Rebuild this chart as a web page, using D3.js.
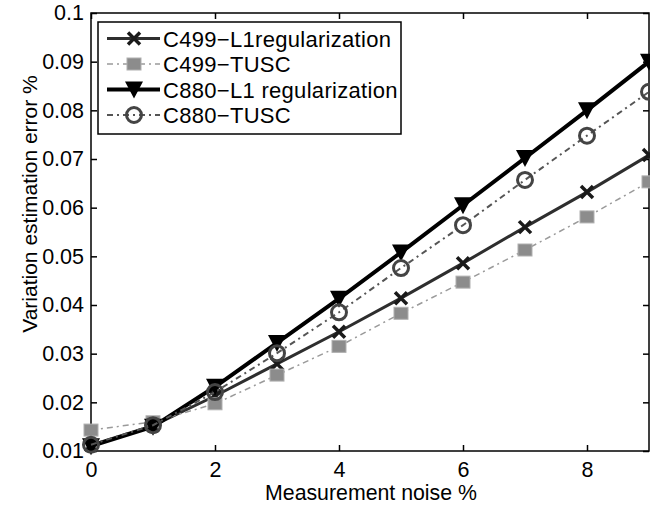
<!DOCTYPE html>
<html>
<head>
<meta charset="utf-8">
<script src="https://cdn.jsdelivr.net/npm/d3@7"></script>
<style>
  body { margin: 0; background: #fff; }
  svg text { font-family: "Liberation Sans", Arial, sans-serif; fill: #000; }
</style>
</head>
<body>
<div id="container"></div>
<script>
const noise = [0, 1, 2, 3, 4, 5, 6, 7, 8, 9];
const c499L1 = [0.0112, 0.0152, 0.0213, 0.0279, 0.0345, 0.0414, 0.0486, 0.0560, 0.0632, 0.0708];
const c499Tusc = [0.0143, 0.0160, 0.0197, 0.0256, 0.0315, 0.0383, 0.0447, 0.0513, 0.0581, 0.0653];
const c880L1 = [0.0110, 0.0150, 0.0232, 0.0322, 0.0413, 0.0508, 0.0605, 0.0702, 0.0800, 0.0900];
const c880Tusc = [0.0113, 0.0153, 0.0221, 0.0301, 0.0385, 0.0476, 0.0564, 0.0657, 0.0748, 0.0838];
const xTicks = [0, 2, 4, 6, 8];
const yTicks = [0.01, 0.02, 0.03, 0.04, 0.05, 0.06, 0.07, 0.08, 0.09, 0.1];
const seriesNames = ['C499\u2212L1regularization', 'C499\u2212TUSC', 'C880\u2212L1 regularization', 'C880\u2212TUSC'];

const width = 650, height = 506;
const margin = { top: 13, right: 1, bottom: 55, left: 91 };
const innerW = width - margin.left - margin.right;
const innerH = height - margin.top - margin.bottom;

const x = d3.scaleLinear().domain([0, 9]).range([0, innerW]);
const y = d3.scaleLinear().domain([0.01, 0.1]).range([innerH, 0]);

const svg = d3.select('#container').append('svg').attr('width', width).attr('height', height);
const g = svg.append('g').attr('transform', `translate(${margin.left},${margin.top})`);

// series styles
const series = [
  { name: seriesNames[0], values: c499L1, stroke: '#2e2e2e', sw: 3, dash: null, marker: 'x', mcol: '#1a1a1a' },
  { name: seriesNames[1], values: c499Tusc, stroke: '#9a9a9a', sw: 1.5, dash: '6,4,2,4', marker: 'square', mcol: '#8c8c8c' },
  { name: seriesNames[2], values: c880L1, stroke: '#000', sw: 4, dash: null, marker: 'tri', mcol: '#000' },
  { name: seriesNames[3], values: c880Tusc, stroke: '#555', sw: 2, dash: '6,4,2,4', marker: 'circle', mcol: '#444' }
];

function drawMarker(sel, type, cx, cy, col) {
  if (type === 'x') {
    sel.append('path').attr('d', `M${cx-6},${cy-6}L${cx+6},${cy+6}M${cx-6},${cy+6}L${cx+6},${cy-6}`)
      .attr('stroke', col).attr('stroke-width', 3.5).attr('fill', 'none');
  } else if (type === 'square') {
    sel.append('rect').attr('x', cx - 7).attr('y', cy - 6).attr('width', 14).attr('height', 12)
      .attr('fill', col).attr('stroke', '#b0b0b0').attr('stroke-width', 1);
  } else if (type === 'tri') {
    sel.append('path').attr('d', `M${cx-9},${cy-8}L${cx+9},${cy-8}L${cx},${cy+9}Z`).attr('fill', col);
  } else if (type === 'circle') {
    sel.append('circle').attr('cx', cx).attr('cy', cy).attr('r', 7.5)
      .attr('fill', 'none').attr('stroke', col).attr('stroke-width', 3);
  }
}

// box + ticks
g.append('rect').attr('width', innerW).attr('height', innerH).attr('fill', 'none').attr('stroke', '#000').attr('stroke-width', 1.5);

const xAxis = g.append('g').attr('transform', `translate(0,${innerH})`)
  .call(d3.axisBottom(x).tickValues(xTicks).tickSizeInner(-6).tickSizeOuter(0).tickPadding(11).tickFormat(d3.format('d')));
const xTop = g.append('g').call(d3.axisTop(x).tickValues(xTicks).tickSizeInner(-6).tickSizeOuter(0).tickFormat(''));
const yAxis = g.append('g')
  .call(d3.axisLeft(y).tickValues(yTicks).tickSizeInner(-6).tickSizeOuter(0).tickPadding(7).tickFormat(d => String(+d.toFixed(2))));
const yRight = g.append('g').attr('transform', `translate(${innerW},0)`)
  .call(d3.axisRight(y).tickValues(yTicks).tickSizeInner(-6).tickSizeOuter(0).tickFormat(''));
[xAxis, xTop, yAxis, yRight].forEach(a => {
  a.select('.domain').remove();
  a.selectAll('line').attr('stroke', '#000').attr('stroke-width', 1.5);
  a.selectAll('text').attr('font-size', 21.5).attr('font-family', '"Liberation Sans", Arial, sans-serif').attr('fill', '#000');
});

// lines and markers
const line = d3.line().x((d, i) => x(noise[i])).y(d => y(d));
series.forEach(s => {
  g.append('path').datum(s.values).attr('d', line).attr('fill', 'none')
    .attr('stroke', s.stroke).attr('stroke-width', s.sw).attr('stroke-dasharray', s.dash);
  const mg = g.append('g');
  s.values.forEach((v, i) => drawMarker(mg, s.marker, x(noise[i]), y(v), s.mcol));
});

// axis titles
svg.append('text').attr('x', 371).attr('y', 500).attr('text-anchor', 'middle')
  .attr('font-size', 21.3).text('Measurement noise %');
svg.append('text').attr('transform', 'translate(37,204) rotate(-90)')
  .attr('text-anchor', 'middle').attr('font-size', 21).text('Variation estimation error %');

// legend
const leg = svg.append('g');
leg.append('rect').attr('x', 98).attr('y', 22).attr('width', 303).attr('height', 112)
  .attr('fill', '#fff').attr('stroke', '#000').attr('stroke-width', 1.5);
const rowY = [38.5, 64, 89.5, 115];
series.forEach((s, i) => {
  const ly = rowY[i];
  leg.append('line').attr('x1', 107).attr('x2', 160).attr('y1', ly).attr('y2', ly)
    .attr('stroke', s.stroke).attr('stroke-width', s.sw).attr('stroke-dasharray', s.dash);
  drawMarker(leg, s.marker, 134, ly, s.mcol);
  leg.append('text').attr('x', 163).attr('y', ly + 8).attr('font-size', 22)
    .attr('letter-spacing', 0.3).text(s.name);
});
</script>
</body>
</html>
